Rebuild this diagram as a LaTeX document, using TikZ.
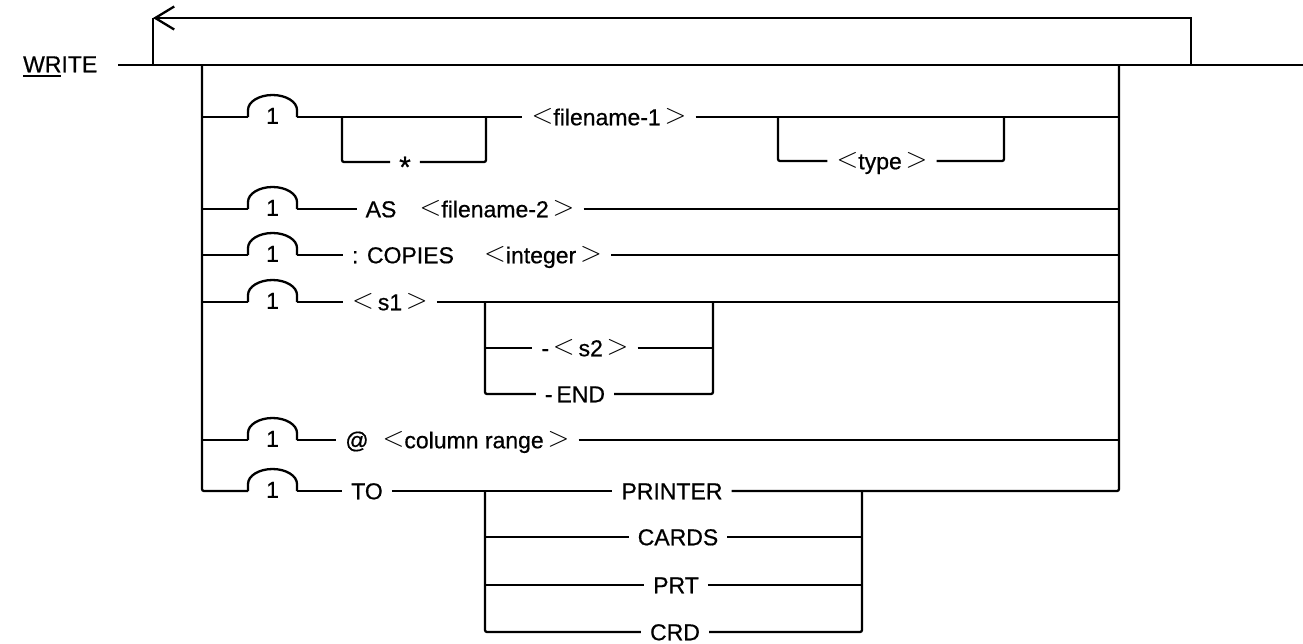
\documentclass[tikz,border=0pt]{standalone}
\usepackage{fontspec}
\usepackage{graphicx}
\setmainfont{Liberation Sans}[FakeBold=0.6]
\usetikzlibrary{arrows.meta}
\newcommand{\ulwr}[1]{\setbox0\hbox{#1}\rlap{\rule[-5pt]{\wd0}{1.8pt}}\box0}
\newcommand{\lsym}{\raisebox{1.5pt}{\scalebox{1.15}{$<$}}}
\newcommand{\gsym}{\raisebox{1.5pt}{\scalebox{1.15}{$>$}}}
\begin{document}
\begin{tikzpicture}[x=1pt,y=-1pt,line width=2.3pt,
  every node/.style={font=\fontsize{23}{27}\selectfont},
  lbl/.style={inner xsep=8pt,inner ysep=0pt,text height=16.5pt,text depth=0pt,anchor=center},
  num/.style={inner sep=0pt,text height=16.5pt,text depth=0pt,anchor=center},
  rc/.style={rounded corners=2pt}]
\useasboundingbox (0,0) rectangle (1303,643);

% title and main line
\node[num,anchor=west] (w) at (22,64) {\ulwr{WR}ITE};
\coordinate (ml) at (118,65);
\coordinate (mr) at (1303,65);
\coordinate (lp1) at (153,65);
\coordinate (lp2) at (153,18);
\coordinate (lp3) at (1191,18);
\coordinate (lp4) at (1191,65);
\coordinate (bl) at (202,65);
\coordinate (br) at (1119,65);
\draw (ml) -- (mr);
\draw[-{Straight Barb[length=19pt,width=23pt]}] (lp4) -- (lp3) -- (lp2);
\draw (lp2) -- (lp1);

% row bumps with "1"
\foreach \i/\y in {1/117,2/209,3/255,4/302,5/440,6/491}{
  \coordinate (bl\i) at (202,\y);
  \coordinate (br\i) at (1119,\y);
  \coordinate (bs\i) at (248,\y);
  \coordinate (be\i) at (297,\y);
  \node[num] (n\i) at (272.5,\y-1.5) {1};
  \draw (bs\i) -- (248,\y-7) .. controls (248,\y-15.3) and (259,\y-22) .. (272.5,\y-22)
        .. controls (286,\y-22) and (297,\y-15.3) .. (297,\y-7) -- (be\i);
}
\foreach \i in {1,...,5}{ \draw (bl\i) -- (bs\i); }
\draw[rc] (bl) |- (bs6);

% row 1
\coordinate (sj1) at (342,117);
\coordinate (sj2) at (486,117);
\coordinate (tj1) at (778,117);
\coordinate (tj2) at (1004,117);
\node[lbl] (star) at (405,162) {\raisebox{-7pt}{\scalebox{1.3}{*}}};
\node[lbl] (f1) at (609,117) {\lsym filename-1\,\gsym};
\node[lbl] (type) at (882,161) {\lsym type\,\gsym};
\draw (be1) -- (f1.west);
\draw (f1.east) -- (br1);
\draw[rc] (sj1) |- (star.west);
\draw[rc] (star.east) -| (sj2);
\draw[rc] (tj1) |- (type.west);
\draw[rc] (type.east) -| (tj2);

% row 2
\node[lbl] (as) at (381,209) {AS};
\node[lbl] (f2) at (497,209) {\lsym filename-2\,\gsym};
\draw (be2) -- (as.west);
\draw (f2.east) -- (br2);

% row 3
\node[lbl] (cop) at (403,255) {: COPIES};
\node[lbl] (int) at (543,255) {\lsym integer\,\gsym};
\draw (be3) -- (cop.west);
\draw (int.east) -- (br3);

% row 4
\node[lbl] (s1) at (390,302) {\lsym\,s1\,\gsym};
\node[lbl] (s2) at (585,348) {-\,\lsym\,s2\,\gsym};
\node[lbl] (end) at (575,394) {-\,END};
\coordinate (sj3) at (485,302);
\coordinate (sj4) at (713,302);
\coordinate (s2l) at (485,348);
\coordinate (s2r) at (713,348);
\draw (be4) -- (s1.west);
\draw (s1.east) -- (br4);
\draw[rc] (sj3) |- (end.west);
\draw[rc] (end.east) -| (sj4);
\draw (s2l) -- (s2.west);
\draw (s2.east) -- (s2r);

% row 5
\node[lbl] (at) at (357,440) {@};
\node[lbl] (col) at (476,440) {\lsym column range\,\gsym};
\draw (be5) -- (at.west);
\draw (col.east) -- (br5);

% row 6
\node[lbl] (to) at (367,491) {TO};
\node[lbl] (pr) at (672,491) {PRINTER};
\node[lbl] (cards) at (678,537) {CARDS};
\node[lbl] (prt) at (676,585) {PRT};
\node[lbl] (crd) at (675,632) {CRD};
\coordinate (tb1) at (485,491);
\coordinate (tb2) at (862,491);
\coordinate (cal) at (485,537);
\coordinate (car) at (862,537);
\coordinate (prl) at (485,585);
\coordinate (prr) at (862,585);
\draw (be6) -- (to.west);
\draw (to.east) -- (pr.west);
\draw[rc] (br) |- (pr.east);
\draw[rc] (tb1) |- (crd.west);
\draw[rc] (crd.east) -| (tb2);
\draw (cal) -- (cards.west);
\draw (cards.east) -- (car);
\draw (prl) -- (prt.west);
\draw (prt.east) -- (prr);
\end{tikzpicture}
\end{document}
